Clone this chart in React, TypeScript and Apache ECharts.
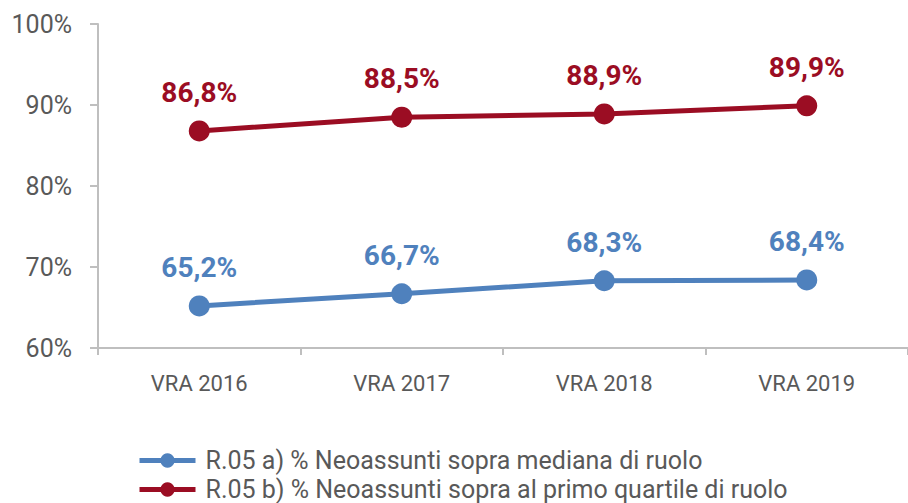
import React, { useEffect, useRef } from "react";
import * as echarts from "echarts";

const categories = ["VRA 2016", "VRA 2017", "VRA 2018", "VRA 2019"];
const seriesAName = "R.05 a) % Neoassunti sopra mediana di ruolo";
const seriesBName = "R.05 b) % Neoassunti sopra al primo quartile di ruolo";
const seriesA = [65.2, 66.7, 68.3, 68.4];
const seriesB = [86.8, 88.5, 88.9, 89.9];
const yTicks = [60, 70, 80, 90, 100];

const BLUE = "#4F81BD";
const RED = "#9B0D23";
const FONT = "Roboto, 'Noto Sans', sans-serif";

export default function App() {
  const ref = useRef<HTMLDivElement>(null);
  useEffect(() => {
    const chart = echarts.init(ref.current!, null, { renderer: "svg" });
    const fmt = (v: number) => v.toFixed(1).replace(".", ",") + "%";
    const mkSeries = (name: string, data: number[], color: string) => ({
      name,
      type: "line",
      data,
      symbol: "circle",
      symbolSize: 21,
      lineStyle: { color, width: 5 },
      itemStyle: { color },
      label: {
        show: true,
        position: "top",
        distance: 14,
        color,
        fontFamily: FONT,
        fontWeight: "bold",
        fontSize: 28,
        formatter: (p: any) => fmt(p.value),
      },
    });
    const legendBase = {
      orient: "horizontal",
      left: 132,
      itemWidth: 56,
      itemHeight: 18,
      itemGap: 10,
      lineStyle: { width: 5 },
      textStyle: { color: "#595959", fontSize: 25, fontFamily: FONT, padding: [0, 0, 0, 5] },
    };
    chart.setOption({
      animation: false,
      textStyle: { fontFamily: FONT },
      grid: { left: 98, right: 0, top: 24, bottom: 155, containLabel: false },
      xAxis: {
        type: "category",
        data: categories,
        boundaryGap: true,
        axisLine: { lineStyle: { color: "#BFBFBF", width: 2 } },
        axisTick: { show: true, length: 7, lineStyle: { color: "#BFBFBF", width: 2 } },
        axisLabel: { color: "#595959", fontSize: 22, margin: 24, fontFamily: FONT },
      },
      yAxis: {
        type: "value",
        min: yTicks[0],
        max: yTicks[yTicks.length - 1],
        interval: 10,
        splitLine: { show: false },
        axisLine: { show: true, lineStyle: { color: "#BFBFBF", width: 2 } },
        axisTick: { show: true, length: 8, lineStyle: { color: "#BFBFBF", width: 2 } },
        axisLabel: {
          color: "#595959",
          fontSize: 25,
          margin: 26,
          fontFamily: FONT,
          formatter: (v: number) => v + "%",
        },
      },
      legend: [
        { ...legendBase, top: 443, data: [seriesAName] },
        { ...legendBase, top: 472, data: [seriesBName] },
      ],
      series: [mkSeries(seriesAName, seriesA, BLUE), mkSeries(seriesBName, seriesB, RED)],
    });
    return () => chart.dispose();
  }, []);
  return (
    <div
      ref={ref}
      style={{ position: "absolute", left: 0, top: 0, width: 908, height: 503 }}
    />
  );
}
